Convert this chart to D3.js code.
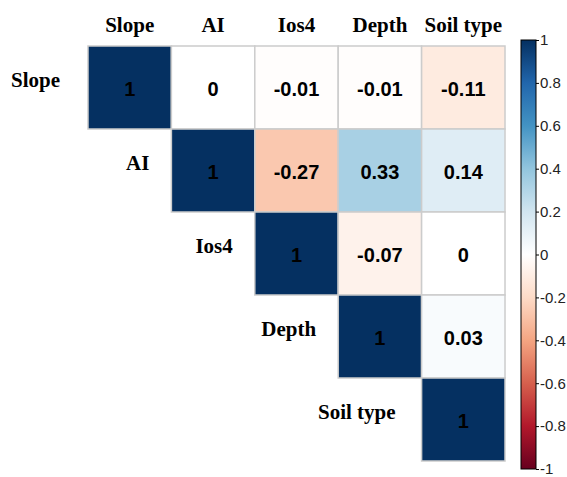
<!DOCTYPE html>
<html>
<head>
<meta charset="utf-8">
<script src="https://cdn.jsdelivr.net/npm/d3@7"></script>
<style>
  html, body { margin: 0; padding: 0; background: #fff; }
  svg { display: block; }
</style>
</head>
<body>
<svg id="chart" width="567" height="477"></svg>
<script>
// Variables shown on both axes of the correlation matrix
const variables = ["Slope", "AI", "Ios4", "Depth", "Soil type"];

// Upper-triangle correlation coefficients (null = not drawn)
const rowSlope    = [1, 0, -0.01, -0.01, -0.11];
const rowAI       = [null, 1, -0.27, 0.33, 0.14];
const rowIos4     = [null, null, 1, -0.07, 0];
const rowDepth    = [null, null, null, 1, 0.03];
const rowSoilType = [null, null, null, null, 1];
const corrRows = [rowSlope, rowAI, rowIos4, rowDepth, rowSoilType];

// Colour legend ticks and their labels
const legendTicks  = [1, 0.8, 0.6, 0.4, 0.2, 0, -0.2, -0.4, -0.6, -0.8, -1];
const legendLabels = ["1", "0.8", "0.6", "0.4", "0.2", "0", "-0.2", "-0.4", "-0.6", "-0.8", "-1"];

// Diverging red-blue palette stops, from -1 to 1
const paletteStops = ["#67001F", "#B2182B", "#D6604D", "#F4A582", "#FDDBC7", "#FFFFFF",
                      "#D1E5F0", "#92C5DE", "#4393C3", "#2166AC", "#053061"];

// Small horizontal nudges for the row headers
const rowLabelShift = [-6, 0, 0, 0, -4];

const svg = d3.select("#chart");

const color = d3.scaleLinear()
  .domain(d3.range(paletteStops.length).map(i => -1 + 2 * i / (paletteStops.length - 1)))
  .range(paletteStops)
  .interpolate(d3.interpolateRgb);

const x = d3.scaleBand().domain(variables).range([88, 505]).padding(0);
const y = d3.scaleBand().domain(variables).range([46, 461]).padding(0);

// Flatten the upper triangle into cells
const cells = [];
corrRows.forEach((row, i) => {
  row.forEach((v, j) => {
    if (v !== null) cells.push({ row: variables[i], col: variables[j], value: v });
  });
});

const cellG = svg.append("g");

cellG.selectAll("rect")
  .data(cells)
  .join("rect")
  .attr("x", d => x(d.col))
  .attr("y", d => y(d.row))
  .attr("width", x.bandwidth())
  .attr("height", y.bandwidth())
  .attr("fill", d => color(d.value))
  .attr("stroke", "#cccccc")
  .attr("stroke-width", 1.5);

cellG.selectAll("text")
  .data(cells)
  .join("text")
  .attr("x", d => x(d.col) + x.bandwidth() / 2)
  .attr("y", d => y(d.row) + y.bandwidth() / 2 + 8)
  .attr("text-anchor", "middle")
  .attr("font-family", "'Liberation Sans', Arial, sans-serif")
  .attr("font-weight", "bold")
  .attr("font-size", 20)
  .attr("fill", "#000")
  .text(d => String(d.value));

// Column headers
svg.append("g")
  .selectAll("text")
  .data(variables)
  .join("text")
  .attr("x", d => x(d) + x.bandwidth() / 2)
  .attr("y", 32)
  .attr("text-anchor", "middle")
  .attr("font-family", "'Liberation Serif', 'Times New Roman', serif")
  .attr("font-weight", "bold")
  .attr("font-size", 21)
  .attr("fill", "#000")
  .text(d => d);

// Row headers, placed just left of the diagonal cell
svg.append("g")
  .selectAll("text")
  .data(variables)
  .join("text")
  .attr("x", (d, i) => x(d) - 22 + rowLabelShift[i])
  .attr("y", d => y(d) + y.bandwidth() / 2 - 1)
  .attr("text-anchor", "end")
  .attr("font-family", "'Liberation Serif', 'Times New Roman', serif")
  .attr("font-weight", "bold")
  .attr("font-size", 21)
  .attr("fill", "#000")
  .text(d => d);

// Colour bar
const legendScale = d3.scaleLinear().domain([-1, 1]).range([469, 40]);
const barX = 521, barW = 15;

const defs = svg.append("defs");
const grad = defs.append("linearGradient")
  .attr("id", "corr-grad")
  .attr("x1", 0).attr("y1", 1)
  .attr("x2", 0).attr("y2", 0);
grad.selectAll("stop")
  .data(color.domain())
  .join("stop")
  .attr("offset", d => (d + 1) / 2)
  .attr("stop-color", d => color(d));

svg.append("rect")
  .attr("x", barX)
  .attr("y", legendScale(1))
  .attr("width", barW)
  .attr("height", legendScale(-1) - legendScale(1))
  .attr("fill", "url(#corr-grad)")
  .attr("stroke", "#000")
  .attr("stroke-width", 1);

const legendAxis = d3.axisRight(legendScale)
  .tickValues(legendTicks)
  .tickSize(3)
  .tickPadding(1)
  .tickFormat((d, i) => legendLabels[i]);

const axisG = svg.append("g")
  .attr("transform", `translate(${barX + barW},0)`)
  .call(legendAxis);
axisG.select(".domain").remove();
axisG.selectAll(".tick line").attr("stroke", "#000");
axisG.selectAll(".tick text")
  .attr("font-family", "'Liberation Sans', Arial, sans-serif")
  .attr("font-size", 15)
  .attr("fill", "#222");
</script>
</body>
</html>
